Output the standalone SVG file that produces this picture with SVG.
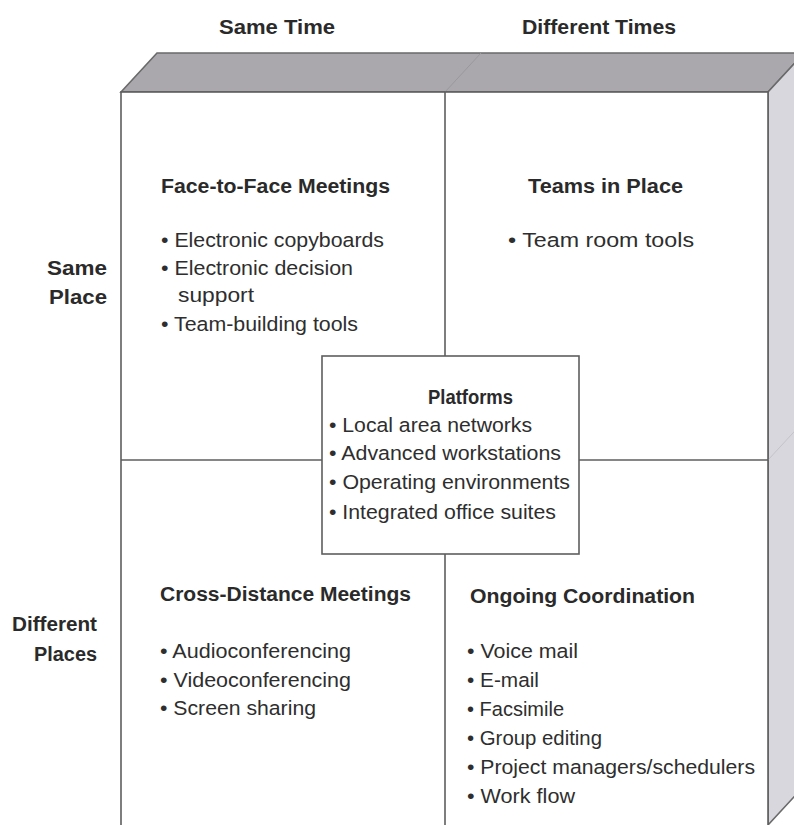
<svg xmlns="http://www.w3.org/2000/svg" width="794" height="825" viewBox="0 0 794 825">
  <style>
    .edge { stroke: #5e5e5e; stroke-width: 1.6; fill: none; }
    .head { font-family: "Liberation Sans", Arial, sans-serif; font-weight: bold; font-size: 20px; fill: #2a2a2a; }
    .item { font-family: "Liberation Sans", Arial, sans-serif; font-size: 20.5px; fill: #2e2e2e; }
  </style>

  <rect width="794" height="825" fill="#ffffff"/>

  <!-- cube faces -->
  <g id="cube">
    <polygon points="121,92 157,53 804,53 768,92" fill="#aaa7ad" stroke="#6a6a6a" stroke-width="1.6"/>
    <line x1="445" y1="92" x2="481" y2="53" stroke="#9a979d" stroke-width="1"/>
    <polygon points="768,92 804,53 804,786 768,825" fill="#d8d7dd" stroke="#6a6a6a" stroke-width="1.6"/>
    <line x1="768" y1="460" x2="804" y2="421" stroke="#c4c3c9" stroke-width="1"/>
    <rect x="121" y="92" width="647" height="740" fill="#ffffff" stroke="#5e5e5e" stroke-width="1.6"/>
  </g>

  <!-- quadrant dividers -->
  <g id="connectors">
    <line class="edge" x1="445" y1="92" x2="445" y2="825"/>
    <line class="edge" x1="121" y1="460" x2="768" y2="460"/>
  </g>

  <!-- axis labels -->
  <g id="axis-time">
    <text class="head" x="219" y="34" textLength="116" lengthAdjust="spacingAndGlyphs">Same Time</text>
    <text class="head" x="522" y="34" textLength="154" lengthAdjust="spacingAndGlyphs">Different Times</text>
  </g>
  <g id="axis-place">
    <text class="head" x="47" y="275" textLength="60" lengthAdjust="spacingAndGlyphs">Same</text>
    <text class="head" x="49" y="304" textLength="58" lengthAdjust="spacingAndGlyphs">Place</text>
    <text class="head" x="12" y="631" textLength="85" lengthAdjust="spacingAndGlyphs">Different</text>
    <text class="head" x="34" y="661" textLength="63" lengthAdjust="spacingAndGlyphs">Places</text>
  </g>

  <!-- same time / same place -->
  <g id="face-to-face">
    <text class="head" x="161" y="193" textLength="229" lengthAdjust="spacingAndGlyphs">Face-to-Face Meetings</text>
    <text class="item" x="161" y="247" textLength="223" lengthAdjust="spacingAndGlyphs">• Electronic copyboards</text>
    <text class="item" x="161" y="275" textLength="192" lengthAdjust="spacingAndGlyphs">• Electronic decision</text>
    <text class="item" x="178" y="302" textLength="76" lengthAdjust="spacingAndGlyphs">support</text>
    <text class="item" x="161" y="331" textLength="197" lengthAdjust="spacingAndGlyphs">• Team-building tools</text>
  </g>

  <!-- different times / same place -->
  <g id="teams-in-place">
    <text class="head" x="528" y="193" textLength="155" lengthAdjust="spacingAndGlyphs">Teams in Place</text>
    <text class="item" x="508" y="247" textLength="186" lengthAdjust="spacingAndGlyphs">• Team room tools</text>
  </g>

  <!-- same time / different places -->
  <g id="cross-distance">
    <text class="head" x="160" y="601" textLength="251" lengthAdjust="spacingAndGlyphs">Cross-Distance Meetings</text>
    <text class="item" x="160" y="658" textLength="191" lengthAdjust="spacingAndGlyphs">• Audioconferencing</text>
    <text class="item" x="160" y="687" textLength="191" lengthAdjust="spacingAndGlyphs">• Videoconferencing</text>
    <text class="item" x="160" y="715" textLength="156" lengthAdjust="spacingAndGlyphs">• Screen sharing</text>
  </g>

  <!-- different times / different places -->
  <g id="ongoing-coordination">
    <text class="head" x="470" y="603" textLength="225" lengthAdjust="spacingAndGlyphs">Ongoing Coordination</text>
    <text class="item" x="467" y="658" textLength="111" lengthAdjust="spacingAndGlyphs">• Voice mail</text>
    <text class="item" x="467" y="687" textLength="72" lengthAdjust="spacingAndGlyphs">• E-mail</text>
    <text class="item" x="467" y="716" textLength="97" lengthAdjust="spacingAndGlyphs">• Facsimile</text>
    <text class="item" x="467" y="745" textLength="135" lengthAdjust="spacingAndGlyphs">• Group editing</text>
    <text class="item" x="467" y="774" textLength="288" lengthAdjust="spacingAndGlyphs">• Project managers/schedulers</text>
    <text class="item" x="467" y="803" textLength="108" lengthAdjust="spacingAndGlyphs">• Work flow</text>
  </g>

  <!-- central platforms box -->
  <g id="platforms">
    <rect x="322" y="356" width="257" height="198" fill="#ffffff" stroke="#5e5e5e" stroke-width="1.6"/>
    <text class="head" x="428" y="404" textLength="85" lengthAdjust="spacingAndGlyphs">Platforms</text>
    <text class="item" x="329" y="432" textLength="203" lengthAdjust="spacingAndGlyphs">• Local area networks</text>
    <text class="item" x="329" y="460" textLength="232" lengthAdjust="spacingAndGlyphs">• Advanced workstations</text>
    <text class="item" x="329" y="489" textLength="241" lengthAdjust="spacingAndGlyphs">• Operating environments</text>
    <text class="item" x="329" y="519" textLength="227" lengthAdjust="spacingAndGlyphs">• Integrated office suites</text>
  </g>
</svg>
